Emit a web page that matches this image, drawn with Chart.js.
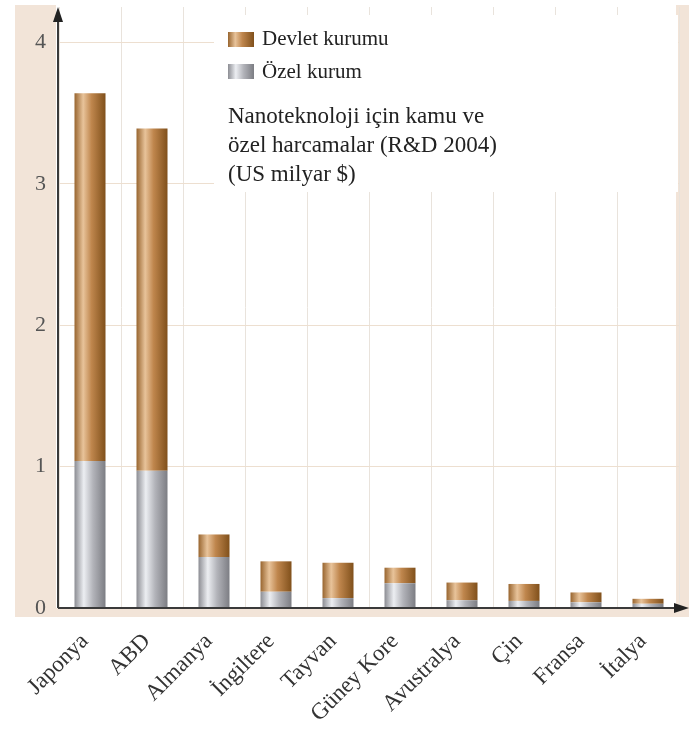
<!DOCTYPE html>
<html>
<head>
<meta charset="utf-8">
<script src="https://cdn.jsdelivr.net/npm/chart.js@4"></script>
<style>
  body { margin: 0; background: #fff; }
  #wrap { width: 689px; height: 731px; }
</style>
</head>
<body>
<div id="wrap"><canvas id="myChart"></canvas></div>
<script>
const countries = ["Japonya", "ABD", "Almanya", "İngiltere", "Tayvan", "Güney Kore", "Avustralya", "Çin", "Fransa", "İtalya"];
const ozelKurum = [1.04, 0.97, 0.36, 0.115, 0.07, 0.175, 0.055, 0.05, 0.04, 0.03];
const devletKurumu = [2.60, 2.42, 0.16, 0.215, 0.25, 0.11, 0.125, 0.12, 0.07, 0.035];
const yTicks = [0, 1, 2, 3, 4];
const seriesNames = ["Özel kurum", "Devlet kurumu"];
const noteLines = ["Nanoteknoloji için kamu ve", "özel harcamalar (R&D 2004)", "(US milyar $)"];

const SERIF = "'Liberation Serif', 'DejaVu Serif', serif";
const BEIGE = "#f2e4d8";

const brownStops = [[0, "#98652f"], [0.28, "#e8c39a"], [0.55, "#bf864d"], [1, "#80501b"]];
const greyStops = [[0, "#8c8d93"], [0.3, "#eceef2"], [0.6, "#b2b3b9"], [1, "#7c7d83"]];

function makeGradient(ctx, x0, x1, stops) {
  const g = ctx.createLinearGradient(x0, 0, x1, 0);
  stops.forEach(([p, c]) => g.addColorStop(p, c));
  return g;
}

function barFill(stops, fallback) {
  return (context) => {
    const chart = context.chart;
    const xScale = chart.scales.x;
    if (!chart.chartArea || !xScale || context.dataIndex === undefined) return fallback;
    const cx = xScale.getPixelForValue(context.dataIndex);
    const w = (xScale.width / countries.length) * 0.5;
    return makeGradient(chart.ctx, cx - w / 2, cx + w / 2, stops);
  };
}

const decorPlugin = {
  id: "decor",
  beforeDraw(chart) {
    const { ctx, chartArea } = chart;
    ctx.save();
    ctx.fillStyle = "#fff";
    ctx.fillRect(0, 0, chart.width, chart.height);
    ctx.fillStyle = BEIGE;
    ctx.fillRect(15, 5, chart.width - 15, 612);
    ctx.fillStyle = "#fff";
    ctx.fillRect(chartArea.left - 3, 5, 620, chartArea.bottom - 5);
    ctx.restore();
  },
  beforeDatasetsDraw(chart) {
    // white box behind the legend and note hides the grid
    const { ctx } = chart;
    ctx.save();
    ctx.fillStyle = "#fff";
    ctx.fillRect(214, 15, 464, 177);
    ctx.restore();
  },
  afterDraw(chart) {
    const { ctx, chartArea } = chart;
    const left = chartArea.left - 1;
    const bottom = chartArea.bottom;
    ctx.save();
    ctx.strokeStyle = "#3a3a3a";
    ctx.fillStyle = "#222";
    ctx.lineWidth = 2;
    ctx.beginPath();
    ctx.moveTo(left, bottom);
    ctx.lineTo(left, 18);
    ctx.moveTo(left, bottom);
    ctx.lineTo(678, bottom);
    ctx.stroke();
    // arrow heads
    ctx.beginPath();
    ctx.moveTo(left, 7);
    ctx.lineTo(left - 5, 22);
    ctx.lineTo(left + 5, 22);
    ctx.closePath();
    ctx.fill();
    ctx.beginPath();
    ctx.moveTo(689, bottom);
    ctx.lineTo(674, bottom - 5);
    ctx.lineTo(674, bottom + 5);
    ctx.closePath();
    ctx.fill();

    // legend
    ctx.fillStyle = makeGradient(ctx, 228, 254, brownStops);
    ctx.fillRect(228, 32, 26, 15);
    ctx.fillStyle = makeGradient(ctx, 228, 254, greyStops);
    ctx.fillRect(228, 64, 26, 15);
    ctx.fillStyle = "#222";
    ctx.font = "21px " + SERIF;
    ctx.textBaseline = "middle";
    ctx.fillText(seriesNames[1], 262, 39);
    ctx.fillText(seriesNames[0], 262, 72);
    ctx.font = "23px " + SERIF;
    noteLines.forEach((line, i) => ctx.fillText(line, 228, 117 + i * 29));
    ctx.restore();
  }
};

const config = {
  type: "bar",
  data: {
    labels: countries,
    datasets: [
      {
        label: seriesNames[0],
        data: ozelKurum,
        backgroundColor: barFill(greyStops, "#b4b5bb"),
        borderWidth: 0,
      },
      {
        label: seriesNames[1],
        data: devletKurumu,
        backgroundColor: barFill(brownStops, "#c48c55"),
        borderWidth: 0,
      },
    ],
  },
  options: {
    responsive: true,
    maintainAspectRatio: false,
    animation: false,
    layout: { padding: { top: 7, right: 10, left: 0, bottom: 0 } },
    plugins: { legend: { display: false }, tooltip: { enabled: false } },
    datasets: { bar: { categoryPercentage: 1, barPercentage: 0.5 } },
    scales: {
      x: {
        stacked: true,
        grid: { color: "#e9e3dc", drawTicks: false, offset: true },
        border: { display: false },
        ticks: {
          font: { family: SERIF, size: 23 },
          color: "#333",
          minRotation: 45,
          maxRotation: 45,
          padding: 20,
          labelOffset: -5,
        },
        afterFit(scale) { scale.height = 123; },
      },
      y: {
        stacked: true,
        min: 0,
        max: 4.25,
        grid: { color: "#eddfd0", drawTicks: false },
        border: { display: false },
        ticks: {
          stepSize: 1,
          includeBounds: false,
          font: { family: SERIF, size: 22 },
          color: "#555",
          padding: 13,
          callback: (v) => (yTicks.includes(v) ? v : ""),
        },
        afterFit(scale) {
          scale.width = 59;
          scale.paddingTop = 0;
          scale.paddingBottom = 0;
        },
      },
    },
  },
  plugins: [decorPlugin],
};

new Chart(document.getElementById("myChart"), config);
</script>
</body>
</html>
